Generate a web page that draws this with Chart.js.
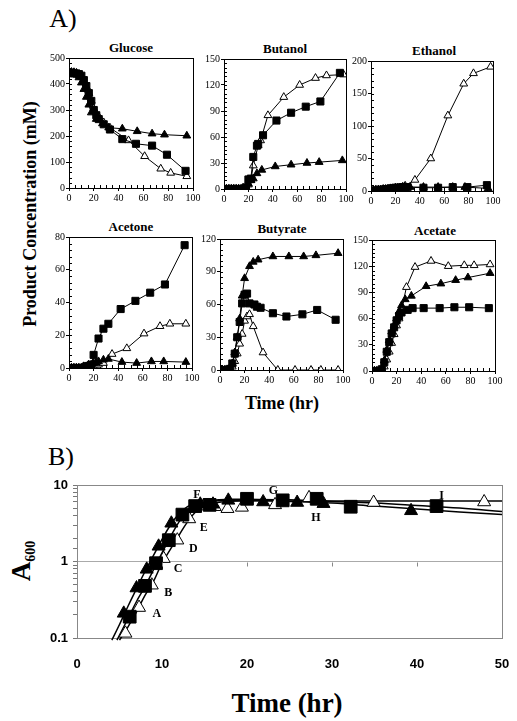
<!DOCTYPE html>
<html>
<head>
<meta charset="utf-8">
<script src="https://cdn.jsdelivr.net/npm/chart.js@4.4.1/dist/chart.umd.min.js"></script>
<style>
body { margin: 0; background: #fff; }
#fig { position: relative; width: 517px; height: 721px; overflow: hidden; background: #fff;
       font-family: "Liberation Serif", "DejaVu Serif", serif; color: #000; }
#fig canvas { position: absolute; }
.lbl { position: absolute; white-space: nowrap; transform: translate(-50%, -50%); }
.b { font-weight: bold; }
.rot { transform: translate(-50%, -50%) rotate(-90deg); }
</style>
</head>
<body>
<div id="fig">
  <div class="lbl" style="left:63px;top:19px;font-size:26px">A)</div>
  <div class="lbl b" style="left:131px;top:48px;font-size:13px">Glucose</div>
  <div class="lbl b" style="left:285px;top:49px;font-size:13px">Butanol</div>
  <div class="lbl b" style="left:434px;top:51px;font-size:13px">Ethanol</div>
  <div class="lbl b" style="left:131px;top:227px;font-size:13px">Acetone</div>
  <div class="lbl b" style="left:282px;top:229px;font-size:13px">Butyrate</div>
  <div class="lbl b" style="left:435px;top:231px;font-size:13px">Acetate</div>
  <div class="lbl b rot" style="left:30px;top:214px;font-size:18px">Product Concentration (mM)</div>
  <div class="lbl b" style="left:282px;top:403px;font-size:18px">Time (hr)</div>
  <div class="lbl" style="left:61px;top:457px;font-size:26px">B)</div>
  <div class="lbl b rot" style="left:21px;top:561px;font-size:27px">A<span style="font-size:14px;position:relative;top:5px">600</span></div>
  <div class="lbl b" style="left:287px;top:703px;font-size:27px">Time (hr)</div>

  <canvas id="glc"></canvas>
  <canvas id="but"></canvas>
  <canvas id="eth"></canvas>
  <canvas id="ace"></canvas>
  <canvas id="bua"></canvas>
  <canvas id="aca"></canvas>
  <canvas id="growth"></canvas>
</div>
<script>
// ---- A) product concentrations (mM) vs time (hr) ----
// sq = filled square, tri = filled triangle, op = open triangle
const glcSqT = [0, 2, 4, 6, 8, 10, 12, 14, 16, 18, 20, 22, 24, 28, 33, 43, 54, 67, 79, 94];
const glcSqV = [442, 442, 441, 440, 438, 432, 415, 392, 365, 335, 300, 280, 265, 245, 225, 188, 170, 163, 128, 66];
const glcTriT = [0, 2, 4, 6, 8, 10, 12, 14, 16, 18, 22, 27, 32, 43, 55, 67, 77, 95];
const glcTriV = [445, 444, 442, 438, 425, 405, 380, 350, 320, 290, 265, 248, 232, 228, 218, 209, 205, 201];
const glcOpT = [0, 2, 4, 6, 8, 10, 12, 14, 16, 18, 20, 24, 28, 33, 48, 61, 74, 82, 95];
const glcOpV = [446, 446, 445, 443, 438, 428, 410, 390, 365, 335, 305, 275, 252, 232, 183, 122, 74, 58, 45];

const butSqT = [0, 2, 4, 6, 8, 10, 12, 14, 16, 18, 20, 22, 24, 27, 28, 32, 43, 55, 67, 79, 95];
const butSqV = [0, 0, 0, 0, 0, 0, 0, 0, 0, 2, 11, 12, 37, 50, 52, 62, 79, 88, 95, 101, 134];
const butTriT = [0, 2, 4, 6, 8, 10, 12, 14, 16, 18, 20, 22, 24, 27, 31, 42, 55, 68, 78, 97];
const butTriV = [0, 0, 0, 0, 0, 0, 0, 0, 0, 1, 6, 10, 12, 18, 22, 26, 28, 30, 31, 33];
const butOpT = [0, 2, 4, 6, 8, 10, 12, 14, 16, 18, 20, 22, 24, 28, 30, 36, 49, 62, 75, 84, 98];
const butOpV = [0, 0, 0, 0, 0, 0, 0, 0, 0, 1, 5, 10, 27, 50, 56, 85, 106, 120, 128, 131, 132];

const ethSqT = [0, 2, 4, 6, 8, 10, 12, 14, 16, 18, 20, 22, 24, 26, 28, 30, 43, 55, 67, 79, 95];
const ethSqV = [0, 0, 1, 1, 2, 2, 3, 3, 4, 4, 5, 5, 5, 6, 6, 6, 5, 5, 6, 6, 9];
const ethTriT = [0, 2, 4, 6, 8, 10, 12, 14, 16, 18, 20, 22, 24, 26, 28, 32, 43, 55, 67, 77, 96];
const ethTriV = [1, 1, 2, 2, 2, 3, 3, 3, 4, 4, 5, 5, 5, 6, 6, 6, 6, 6, 6, 6, 4];
const ethOpT = [0, 2, 4, 6, 8, 10, 12, 14, 16, 18, 20, 22, 24, 26, 28, 36, 49, 63, 76, 84, 98];
const ethOpV = [0, 0, 1, 1, 1, 2, 2, 2, 3, 3, 4, 4, 5, 6, 8, 17, 50, 116, 165, 181, 191];

const aceSqT = [0, 2, 4, 6, 8, 10, 12, 14, 16, 18, 20, 24, 28, 32, 42, 54, 66, 78, 94];
const aceSqV = [0, 0, 0, 0, 0, 0, 0, 1, 1, 2, 8, 18, 24, 27, 36, 41, 46, 51, 75];
const aceTriT = [0, 2, 4, 6, 8, 10, 12, 14, 16, 18, 20, 22, 24, 28, 32, 43, 55, 67, 77, 95];
const aceTriV = [0, 0, 0, 0, 0, 0, 1, 1, 2, 2, 3, 3, 4, 5, 5.5, 3.6, 3, 4, 4, 3.6];
const aceOpT = [0, 2, 4, 6, 8, 10, 12, 14, 16, 18, 20, 22, 24, 28, 35, 47, 61, 74, 82, 95];
const aceOpV = [0, 0, 0, 0, 0, 0, 0, 0, 0, 1, 1, 2, 2, 3, 8.5, 12, 21, 25.5, 27, 27];

const buaSqT = [0, 2, 4, 6, 8, 10, 12, 14, 16, 18, 20, 22, 24, 28, 30, 33, 43, 54, 67, 79, 94];
const buaSqV = [0, 0, 0, 0, 1, 6, 15, 30, 44, 61, 69, 70, 61, 60, 58, 57, 52, 49, 51, 55, 46];
const buaTriT = [0, 2, 4, 6, 8, 10, 12, 14, 16, 18, 20, 24, 27, 31, 43, 56, 68, 78, 96];
const buaTriV = [0, 0, 0, 0, 1, 6, 16, 30, 47, 68, 84, 95, 99, 101, 104, 104, 104, 105, 107];
const buaOpT = [0, 2, 4, 6, 8, 10, 12, 14, 16, 18, 20, 22, 24, 27, 35, 47, 61, 74, 82, 96];
const buaOpV = [0, 0, 0, 0, 0, 3, 8, 15, 24, 33, 45, 49, 51, 40, 16, 0, 0, 0, 0, 0];

const acaSqT = [0, 2, 4, 6, 8, 10, 12, 14, 16, 18, 20, 22, 24, 29, 33, 42, 55, 67, 79, 95];
const acaSqV = [0, 0, 0, 0, 2, 10, 22, 33, 43, 50, 58, 63, 67, 70, 72, 72, 72, 73, 73, 72];
const acaTriT = [0, 2, 4, 6, 8, 10, 12, 14, 16, 18, 20, 22, 24, 27, 32, 44, 56, 68, 78, 96];
const acaTriV = [0, 0, 0, 0, 2, 12, 24, 35, 45, 52, 60, 68, 75, 82, 86, 97, 100, 104, 107, 112];
const acaOpT = [0, 2, 4, 6, 8, 10, 12, 14, 16, 18, 20, 22, 24, 28, 35, 48, 62, 75, 83, 96];
const acaOpV = [0, 0, 0, 0, 0, 5, 13, 22, 32, 42, 52, 60, 70, 96, 119, 126, 120, 121, 121, 122];

// ---- B) growth, A600 vs time (hr) ----
const grTriT = [5.5, 7.0, 8.2, 9.6, 11.1, 14.5, 16.0, 17.8, 21.9, 25.9, 29.0, 39.3];
const grTriV = [0.21, 0.45, 0.79, 1.58, 3.16, 5.6, 5.6, 6.3, 6.0, 5.9, 5.7, 4.6];
const grSqT = [6.2, 8.0, 9.3, 10.8, 12.4, 13.9, 15.6, 20.0, 24.2, 28.2, 32.2, 42.3];
const grSqV = [0.19, 0.48, 0.95, 1.9, 4.1, 5.3, 5.5, 6.6, 6.3, 6.6, 5.2, 5.3];
const grOpT = [5.7, 7.3, 8.8, 10.2, 11.8, 13.2, 14.9, 16.2, 17.7, 19.4, 23.3, 27.3, 34.9, 47.9];
const grOpV = [0.115, 0.25, 0.49, 1.09, 1.9, 3.6, 5.3, 5.2, 4.9, 5.1, 5.5, 6.8, 5.9, 6.0];
// fitted curves
const fitTriT = [4.1, 5, 6, 7, 8, 9, 10, 11, 12, 13, 14, 16, 18, 20, 25, 30, 35, 40, 45, 50];
const fitTriV = [0.094, 0.15, 0.26, 0.44, 0.74, 1.2, 1.95, 3.0, 4.2, 5.2, 5.8, 6.2, 6.3, 6.3, 6.1, 5.8, 5.3, 4.85, 4.45, 4.1];
const fitSqT = [4.7, 6, 7, 8, 9, 10, 11, 12, 13, 14, 16, 18, 20, 25, 30, 35, 40, 45, 50];
const fitSqV = [0.094, 0.18, 0.3, 0.47, 0.78, 1.3, 2.1, 3.3, 4.6, 5.6, 6.3, 6.5, 6.5, 6.4, 6.1, 5.8, 5.4, 5.0, 4.5];
const fitOpT = [5.0, 6, 7, 8, 9, 10, 11, 12, 13, 14, 15, 17, 20, 25, 30, 40, 50];
const fitOpV = [0.094, 0.14, 0.22, 0.36, 0.55, 0.95, 1.45, 2.2, 3.3, 4.5, 5.4, 6.0, 6.2, 6.2, 6.2, 6.2, 6.2];
// sample letters
const letterNames = ['A', 'B', 'C', 'D', 'E', 'F', 'G', 'H', 'I'];
const letterT = [9.4, 10.75, 11.9, 13.7, 14.9, 14.1, 23.1, 28.1, 42.9];
const letterV = [0.204, 0.385, 0.81, 1.46, 2.73, 7.5, 8.4, 3.67, 7.2];

const SERIF = '"Liberation Serif", "DejaVu Serif", serif';
const SANS = '"Liberation Sans", Arial, sans-serif';

function pts(t, v) {
    return t.map((x, i) => ({ x: x, y: v[i] }));
}

const framePlugin = {
    id: 'frame',
    beforeDatasetsDraw(chart, args, opts) {
        const a = chart.chartArea;
        const c = chart.ctx;
        c.save();
        c.strokeStyle = opts.color || '#000';
        c.lineWidth = 1;
        c.strokeRect(Math.round(a.left) + 0.5, Math.round(a.top) + 0.5,
            Math.round(a.right - a.left), Math.round(a.bottom - a.top));
        // minor ticks pointing into the plot
        if (opts.inner) {
            const xs = chart.scales.x, ys = chart.scales.y;
            c.strokeStyle = '#000';
            c.beginPath();
            xs.ticks.forEach(tk => {
                const px = Math.round(xs.getPixelForValue(tk.value)) + 0.5;
                c.moveTo(px, a.bottom);
                c.lineTo(px, a.bottom - 3);
            });
            ys.ticks.forEach(tk => {
                const py = Math.round(ys.getPixelForValue(tk.value)) + 0.5;
                c.moveTo(a.left, py);
                c.lineTo(a.left + 3, py);
            });
            c.stroke();
        }
        c.restore();
    }
};

function markerSets(sq, tri, op, big) {
    const rSq = big ? 9 : 5;
    const rTri = big ? 7.5 : 4.5;
    const lw = big ? 1.5 : 1;
    const common = { showLine: !big, borderColor: '#000', borderWidth: lw, pointBorderColor: '#000', pointBorderWidth: 1, tension: 0 };
    return [
        Object.assign({ data: pts(sq[0], sq[1]), pointStyle: 'rect', pointRadius: rSq, pointBackgroundColor: '#000' }, common),
        Object.assign({ data: pts(tri[0], tri[1]), pointStyle: 'triangle', pointRadius: rTri, pointBackgroundColor: '#000' }, common),
        Object.assign({ data: pts(op[0], op[1]), pointStyle: 'triangle', pointRadius: rTri, pointBackgroundColor: '#fff' }, common)
    ];
}

function makePanel(id, box, yMax, yStep, yEvery, sq, tri, op) {
    const [l, t, r, b] = box;
    const yW = 30, xH = 18, padT = 7, padR = 12;
    const cv = document.getElementById(id);
    cv.width = r - l + yW + padR;
    cv.height = b - t + padT + xH;
    cv.style.left = (l - yW) + 'px';
    cv.style.top = (t - padT) + 'px';
    new Chart(cv.getContext('2d'), {
        type: 'scatter',
        data: { datasets: markerSets(sq, tri, op, false) },
        options: {
            responsive: false,
            animation: false,
            events: [],
            layout: { padding: { left: 0, top: padT, right: padR, bottom: 0 } },
            plugins: { legend: { display: false }, tooltip: { enabled: false }, frame: { color: '#000', inner: true } },
            scales: {
                x: {
                    type: 'linear', min: 0, max: 100,
                    afterFit: s => { s.height = xH; s.paddingLeft = 0; s.paddingRight = 0; },
                    border: { color: '#000' },
                    grid: { drawOnChartArea: false, tickLength: 3,
                            tickColor: c => (c.tick && c.tick.value % 20 === 0 ? '#000' : 'rgba(0,0,0,0)') },
                    ticks: {
                        stepSize: 5, maxTicksLimit: 1000, autoSkip: false, maxRotation: 0, padding: 1,
                        color: '#000', font: { family: SERIF, size: 10 },
                        callback: v => (v % 20 === 0 ? v : '')
                    }
                },
                y: {
                    type: 'linear', min: 0, max: yMax,
                    afterFit: s => { s.width = yW; s.paddingTop = 0; s.paddingBottom = 0; },
                    border: { color: '#000' },
                    grid: { drawOnChartArea: false, tickLength: 3,
                            tickColor: c => (c.tick && c.tick.value % yEvery === 0 ? '#000' : 'rgba(0,0,0,0)') },
                    ticks: {
                        stepSize: yStep, maxTicksLimit: 1000, autoSkip: false, padding: 1,
                        color: '#000', font: { family: SERIF, size: 10 },
                        callback: v => (v % yEvery === 0 ? v : '')
                    }
                }
            }
        },
        plugins: [framePlugin]
    });
}

makePanel('glc', [69, 58, 193, 188], 500, 20, 100, [glcSqT, glcSqV], [glcTriT, glcTriV], [glcOpT, glcOpV]);
makePanel('but', [224, 59, 346, 189], 150, 5, 30, [butSqT, butSqV], [butTriT, butTriV], [butOpT, butOpV]);
makePanel('eth', [371, 61, 493, 191], 200, 10, 50, [ethSqT, ethSqV], [ethTriT, ethTriV], [ethOpT, ethOpV]);
makePanel('ace', [69, 237, 192, 368], 80, 4, 20, [aceSqT, aceSqV], [aceTriT, aceTriV], [aceOpT, aceOpV]);
makePanel('bua', [220, 239, 343, 370], 120, 5, 30, [buaSqT, buaSqV], [buaTriT, buaTriV], [buaOpT, buaOpV]);
makePanel('aca', [372, 240, 495, 371], 150, 5, 30, [acaSqT, acaSqV], [acaTriT, acaTriV], [acaOpT, acaOpV]);

// ---- growth chart ----
const lettersPlugin = {
    id: 'letters',
    afterDatasetsDraw(chart) {
        const c = chart.ctx, xs = chart.scales.x, ys = chart.scales.y;
        c.save();
        c.font = 'bold 12px ' + SERIF;
        c.fillStyle = '#000';
        c.textAlign = 'center';
        c.textBaseline = 'middle';
        letterNames.forEach((n, i) => {
            c.fillText(n, xs.getPixelForValue(letterT[i]), ys.getPixelForValue(letterV[i]));
        });
        // small x-axis tick marks on the A600 = 1 line
        c.strokeStyle = '#888';
        c.lineWidth = 1;
        const y1 = Math.round(ys.getPixelForValue(1)) + 0.5;
        for (let v = 10; v < 50; v += 10) {
            const px = Math.round(xs.getPixelForValue(v)) + 0.5;
            c.beginPath();
            c.moveTo(px, y1);
            c.lineTo(px, y1 + 4);
            c.stroke();
        }
        c.restore();
    }
};

function isDecade(v) {
    const l = Math.log10(v);
    return Math.abs(l - Math.round(l)) < 1e-6;
}

(function () {
    const l = 77, t = 483, r = 502, b = 638;
    const yW = 40, xH = 36, padT = 8, padR = 14;
    const cv = document.getElementById('growth');
    cv.width = r - l + yW + padR;
    cv.height = b - t + padT + xH;
    cv.style.left = (l - yW) + 'px';
    cv.style.top = (t - padT) + 'px';
    const fitStyle = { showLine: true, pointRadius: 0, borderColor: '#000', borderWidth: 1.5, tension: 0.4,
                       clip: { left: 0, top: 0, right: 6, bottom: 5 } };
    const datasets = markerSets([grSqT, grSqV], [grTriT, grTriV], [grOpT, grOpV], true).concat([
        Object.assign({ data: pts(fitTriT, fitTriV) }, fitStyle),
        Object.assign({ data: pts(fitSqT, fitSqV) }, fitStyle),
        Object.assign({ data: pts(fitOpT, fitOpV) }, fitStyle)
    ]);
    new Chart(cv.getContext('2d'), {
        type: 'scatter',
        data: { datasets: datasets },
        options: {
            responsive: false,
            animation: false,
            events: [],
            layout: { padding: { left: 0, top: padT, right: padR, bottom: 0 } },
            plugins: { legend: { display: false }, tooltip: { enabled: false }, frame: { color: '#888' } },
            scales: {
                x: {
                    type: 'linear', min: 0, max: 50,
                    afterFit: s => { s.height = xH; s.paddingLeft = 0; s.paddingRight = 0; },
                    border: { color: '#888' },
                    grid: { display: false, drawTicks: false },
                    ticks: {
                        stepSize: 10, padding: 19, maxRotation: 0, color: '#000',
                        font: { family: SANS, size: 13, weight: 'bold' }
                    }
                },
                y: {
                    type: 'logarithmic', min: 0.1, max: 10,
                    afterFit: s => { s.width = yW; s.paddingTop = 0; s.paddingBottom = 0; },
                    border: { color: '#888' },
                    grid: {
                        tickLength: 4, tickColor: '#777',
                        color: c => (c.tick && Math.abs(c.tick.value - 1) < 1e-9 ? '#aaa' : 'rgba(0,0,0,0)')
                    },
                    ticks: {
                        autoSkip: false, padding: 5, color: '#000',
                        font: { family: SANS, size: 13, weight: 'bold' },
                        callback: v => (isDecade(v) ? String(v) : '')
                    }
                }
            }
        },
        plugins: [framePlugin, lettersPlugin]
    });
})();
</script>
</body>
</html>
